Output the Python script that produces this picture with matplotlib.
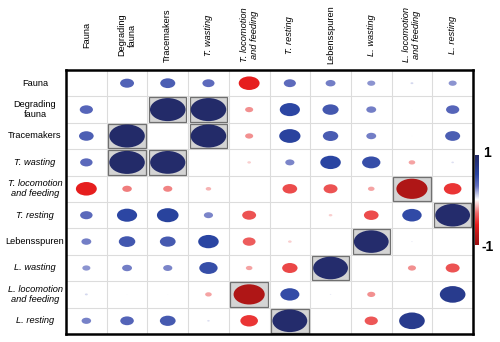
import numpy as np
import matplotlib
matplotlib.use("Agg")
import matplotlib.pyplot as plt
from matplotlib.patches import Ellipse, Rectangle
from matplotlib.colors import LinearSegmentedColormap

plt.rcParams['font.family'] = ['Liberation Sans', 'DejaVu Sans']

labels = ["Fauna", "Degrading\nfauna", "Tracemakers", "T. wasting",
          "T. locomotion\nand feeding", "T. resting", "Lebensspuren",
          "L. wasting", "L. locomotion\nand feeding", "L. resting"]
italic = [False, False, False, True, True, True, False, True, True, True]

# correlation values, rows top to bottom (nan on the diagonal)
corr = np.array([
    [np.nan, 0.38, 0.41, 0.33, -0.57, 0.33, 0.27, 0.22, 0.08, 0.22],
    [0.36, np.nan, 0.97, 0.97, -0.22, 0.55, 0.44, 0.27, 0.02, 0.36],
    [0.40, 0.97, np.nan, 0.97, -0.22, 0.58, 0.42, 0.27, 0.02, 0.41],
    [0.34, 0.97, 0.96, np.nan, -0.10, 0.25, 0.56, 0.50, -0.18, 0.07],
    [-0.57, -0.26, -0.25, -0.15, np.nan, -0.40, -0.38, -0.18, -0.85, -0.48],
    [0.34, 0.55, 0.59, 0.25, -0.38, np.nan, -0.10, -0.40, 0.53, 0.95],
    [0.27, 0.45, 0.43, 0.56, -0.35, -0.10, np.nan, 0.95, 0.04, 0.01],
    [0.22, 0.27, 0.25, 0.50, -0.18, -0.42, 0.95, np.nan, -0.22, -0.38],
    [0.08, 0.02, 0.02, -0.18, -0.85, 0.52, 0.04, -0.22, np.nan, 0.70],
    [0.26, 0.37, 0.43, 0.07, -0.48, 0.95, 0.00, -0.36, 0.70, np.nan],
])
# cells with grey background (significant)
sig = [(1, 2), (1, 3), (2, 1), (2, 3), (3, 1), (3, 2), (4, 8), (8, 4),
       (5, 9), (9, 5), (6, 7), (7, 6)]

cmap = LinearSegmentedColormap.from_list("rb", [
    (0.0, '#9e0f12'), (0.1, '#b51818'), (0.22, '#e81e1e'), (0.35, '#ee6a6a'),
    (0.5, '#ffffff'), (0.65, '#6470c0'), (0.78, '#2a45a2'), (0.9, '#26347e'),
    (1.0, '#232a66')])

n = len(labels)
fig = plt.figure(figsize=(5, 3.42), dpi=100)
ax = fig.add_axes([66 / 500, 8 / 342, 407 / 500, 264 / 342])
ax.set_xlim(0, n)
ax.set_ylim(n, 0)

for k in range(1, n):
    ax.axhline(k, color='#dcdcdc', lw=0.8, zorder=0)
    ax.axvline(k, color='#dcdcdc', lw=0.8, zorder=0)

for (i, j) in sig:
    ax.add_patch(Rectangle((j + 0.04, i + 0.04), 0.92, 0.92, facecolor='#d4d4d4',
                           edgecolor='#707070', lw=0.9, zorder=1))

for i in range(n):
    for j in range(n):
        r = corr[i, j]
        if np.isnan(r):
            continue
        d = abs(r) * 0.9
        ax.add_patch(Ellipse((j + 0.5, i + 0.5), d, d, facecolor=cmap((r + 1) / 2),
                             edgecolor='none', zorder=2))

ax.set_xticks([])
ax.set_yticks([])
for s in ax.spines.values():
    s.set_linewidth(1.8)

for k, lab in enumerate(labels):
    st = 'italic' if italic[k] else 'normal'
    fig.text(35 / 500, 1 - (70 + 26.4 * (k + 0.5)) / 342, lab, ha='center', va='center',
             fontsize=6.7, style=st, linespacing=1.15)
    fig.text((66 + 40.7 * (k + 0.5)) / 500, 1 - 35 / 342, lab, ha='center', va='center',
             rotation=90, fontsize=6.7, style=st, linespacing=1.15)

cax = fig.add_axes([475 / 500, 1 - 245 / 342, 4 / 500, 90 / 342])
grad = np.linspace(1, -1, 200).reshape(-1, 1)
cax.imshow(grad, aspect='auto', cmap=cmap, vmin=-1, vmax=1)
cax.set_xticks([])
cax.set_yticks([])
for s in cax.spines.values():
    s.set_visible(False)
fig.text(483 / 500, 1 - 153 / 342, "1", fontsize=10, weight='bold', va='center', ha='left')
fig.text(481 / 500, 1 - 247 / 342, "-1", fontsize=10, weight='bold', va='center', ha='left')

fig.savefig("out.png", dpi=100)
